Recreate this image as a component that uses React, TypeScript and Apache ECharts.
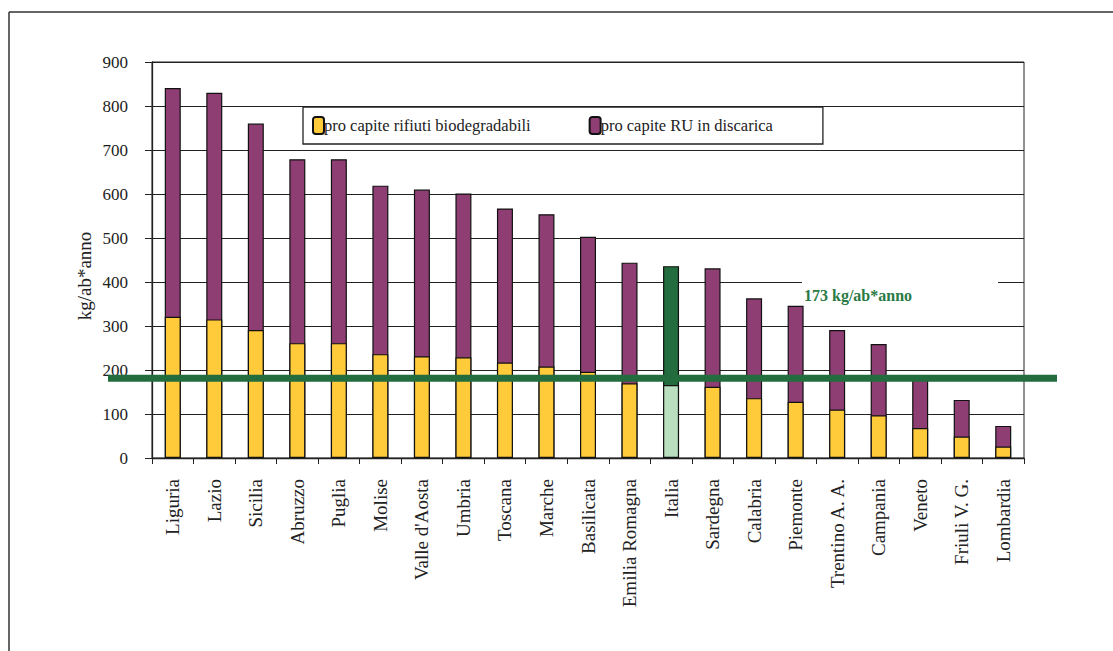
import React, { useEffect, useRef } from "react";
import * as echarts from "echarts";

const categories = [
  "Liguria", "Lazio", "Sicilia", "Abruzzo", "Puglia", "Molise", "Valle d'Aosta",
  "Umbria", "Toscana", "Marche", "Basilicata", "Emilia Romagna", "Italia",
  "Sardegna", "Calabria", "Piemonte", "Trentino A. A.", "Campania", "Veneto",
  "Friuli V. G.", "Lombardia",
];
const landfillPerCapita = [841, 830, 760, 679, 679, 619, 610, 601, 567, 554, 503, 444, 436, 431, 363, 346, 291, 259, 180, 132, 73];
const biodegradablePerCapita = [321, 315, 291, 261, 261, 236, 231, 229, 217, 208, 196, 170, 166, 162, 136, 128, 110, 97, 68, 49, 26];
const yTicks = [0, 100, 200, 300, 400, 500, 600, 700, 800, 900];
const targetLineValue = 181;
const targetLabel = "173 kg/ab*anno";
const yAxisTitle = "kg/ab*anno";
const highlightCategory = "Italia";

const SERIF = "'Liberation Serif', 'Times New Roman', serif";
const YELLOW = "#FFCB3A";
const PURPLE = "#8F3E74";
const DARK_GREEN = "#226C3D";
const LIGHT_GREEN = "#B9DFBF";

export default function App() {
  const ref = useRef<HTMLDivElement>(null);
  useEffect(() => {
    document.body.style.margin = "0";
    const chart = echarts.init(ref.current!, null, { renderer: "svg" });
    const purpleData = landfillPerCapita.map((v, i) =>
      categories[i] === highlightCategory
        ? { value: v, itemStyle: { color: DARK_GREEN } }
        : v
    );
    const yellowData = biodegradablePerCapita.map((v, i) =>
      categories[i] === highlightCategory
        ? { value: v, itemStyle: { color: LIGHT_GREEN } }
        : v
    );
    chart.setOption({
      animation: false,
      backgroundColor: "#fff",
      textStyle: { fontFamily: SERIF },
      grid: { left: 152, right: 89, top: 62, bottom: 193, show: true, borderColor: "#222", borderWidth: 1 },
      legend: {
        data: ["pro capite rifiuti biodegradabili", "pro capite RU in discarica"],
        left: 303,
        top: 107,
        padding: [9, 50, 9, 9],
        itemWidth: 11,
        itemHeight: 17,
        itemGap: 58,
        backgroundColor: "#fff",
        borderColor: "#222",
        borderWidth: 1.3,
        textStyle: { fontFamily: SERIF, fontSize: 16.5, color: "#222", padding: [0, 0, 0, -5] },
      },
      xAxis: {
        type: "category",
        data: categories,
        axisLine: { lineStyle: { color: "#222", width: 1.3 } },
        axisTick: { show: true, length: 6, lineStyle: { color: "#222" } },
        axisLabel: { rotate: 90, fontFamily: SERIF, fontSize: 19, color: "#222", margin: 21, interval: 0 },
      },
      yAxis: {
        type: "value",
        min: yTicks[0],
        max: yTicks[yTicks.length - 1],
        interval: yTicks[1] - yTicks[0],
        axisLine: { show: true, lineStyle: { color: "#222", width: 1.3 } },
        axisTick: { show: true, length: 7, lineStyle: { color: "#222" } },
        axisLabel: { fontFamily: SERIF, fontSize: 17, color: "#222", margin: 24 },
        splitLine: { show: true, lineStyle: { color: "#222", width: 1.2 } },
      },
      series: [
        {
          name: "pro capite RU in discarica",
          type: "bar",
          data: purpleData,
          barWidth: 16,
          barGap: "-100%",
          itemStyle: { color: PURPLE, borderColor: "#111", borderWidth: 1.2 },
          z: 2,
        },
        {
          name: "pro capite rifiuti biodegradabili",
          type: "bar",
          data: yellowData,
          barWidth: 16,
          barGap: "-100%",
          itemStyle: { color: YELLOW, borderColor: "#111", borderWidth: 1.2 },
          z: 3,
        },
      ],
    });
    const yPix = chart.convertToPixel({ yAxisIndex: 0 }, targetLineValue) as number;
    chart.setOption({
      graphic: [
        { type: "line", shape: { x1: 9, y1: 12, x2: 1113, y2: 12 }, style: { stroke: "#333", lineWidth: 1.5 }, z: 1 },
        { type: "line", shape: { x1: 9, y1: 12, x2: 9, y2: 651 }, style: { stroke: "#333", lineWidth: 1.5 }, z: 1 },
        { type: "rect", shape: { x: 802, y: 276, width: 196, height: 34 }, style: { fill: "#fff" }, z: 1 },
        {
          type: "text",
          x: 84,
          y: 276,
          rotation: Math.PI / 2,
          style: { text: yAxisTitle, fill: "#222", font: `19px ${SERIF}`, align: "center", verticalAlign: "middle" },
          z: 10,
        },
        {
          type: "text",
          x: 804,
          y: 295,
          style: { text: targetLabel, fill: "#2A7A46", font: `bold 16px ${SERIF}`, verticalAlign: "middle" },
          z: 10,
        },
        { type: "line", shape: { x1: 108, y1: yPix, x2: 1057, y2: yPix }, style: { stroke: DARK_GREEN, lineWidth: 7 }, z: 20 },
      ],
    });
    return () => chart.dispose();
  }, []);
  return <div ref={ref} style={{ width: 1113, height: 651 }} />;
}
